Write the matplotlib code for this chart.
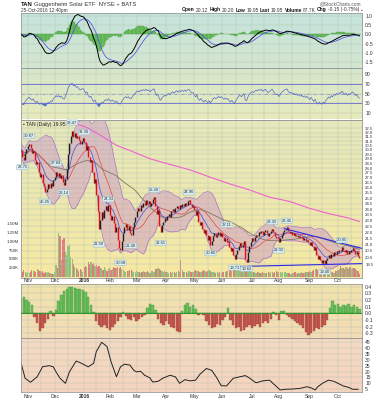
import numpy as np
import pandas as pd
import matplotlib
matplotlib.use("Agg")
import matplotlib.pyplot as plt
from matplotlib.colors import LinearSegmentedColormap
from matplotlib.ticker import FixedLocator, NullLocator, FixedFormatter

plt.rcParams["font.family"] = ["Liberation Sans", "DejaVu Sans"]

W, H = 379, 400

# trading days, Oct 26 2015 .. Oct 25 2016
holidays = ["2015-11-26", "2015-12-25", "2016-01-01", "2016-01-18", "2016-02-15",
            "2016-03-25", "2016-05-30", "2016-07-04", "2016-09-05"]
dates = pd.bdate_range("2015-10-26", "2016-10-25")
dates = dates[~dates.isin(pd.to_datetime(holidays))]

closes = [
    30.0, 29.2, 28.9, 29.6, 30.1, 30.4, 30.7, 30.2, 29.6, 29.9,
    28.9, 28.4, 28.7, 27.6, 27.1, 27.4, 26.5, 26.2, 25.6, 25.9,
    26.4, 26.0, 26.5, 26.2, 26.8, 27.1, 27.6, 27.2, 27.5, 27.0,
    27.3, 26.6, 26.3, 26.9, 27.9, 29.5, 30.8, 31.6, 32.2, 31.5,
    31.9, 31.3, 31.6, 31.1, 30.7, 31.0, 31.3, 30.9, 30.0, 30.4,
    29.2, 28.6, 28.9, 27.6, 26.5, 26.9, 25.3, 23.8, 22.3, 23.0,
    23.7, 23.2, 23.9, 24.3, 23.8, 24.4, 23.5, 23.0, 23.4, 22.8,
    22.0, 22.4, 21.4, 20.7, 20.6, 21.3, 21.9, 22.4, 22.7, 22.2,
    22.5, 21.9, 21.8, 22.4, 22.9, 23.3, 23.8, 24.1, 23.8, 24.4,
    24.2, 24.6, 24.4, 24.8, 24.5, 24.7, 24.3, 24.6, 24.9, 25.1,
    24.3, 23.6, 23.9, 22.5, 22.0, 22.6, 22.9, 23.2, 23.0, 23.4,
    23.6, 23.3, 23.8, 24.0, 23.7, 24.1, 24.3, 24.0, 24.4, 24.2,
    24.5, 24.3, 24.6, 24.4, 24.7, 24.8, 24.5, 24.2, 24.3, 23.9,
    23.5, 23.8, 22.9, 22.6, 22.9, 22.3, 21.9, 22.2, 21.8, 21.4,
    21.7, 21.0, 21.3, 21.7, 21.9, 21.6, 21.8, 22.0, 21.7, 21.9,
    21.6, 21.3, 21.5, 21.2, 21.3, 20.8, 20.5, 20.7, 20.2, 19.9,
    20.3, 20.6, 20.9, 21.1, 20.8, 21.0, 21.3, 19.9, 19.7, 20.4,
    20.9, 21.2, 21.5, 21.3, 21.6, 21.8, 21.7, 22.0, 21.9, 22.1,
    21.8, 22.0, 22.2, 21.9, 21.7, 21.9, 22.1, 22.3, 22.0, 21.7,
    21.5, 21.6, 21.2, 21.5, 21.8, 22.0, 22.2, 22.3, 22.4, 22.1,
    21.9, 22.0, 21.8, 21.9, 21.7, 21.8, 21.6, 21.7, 21.5, 21.6,
    21.4, 21.5, 21.3, 21.4, 21.2, 21.0, 21.2, 20.9, 20.6, 20.8,
    20.2, 19.9, 20.1, 19.8, 19.6, 19.8, 19.5, 19.8, 20.0, 20.2,
    20.0, 20.3, 20.1, 20.4, 20.3, 20.5, 20.4, 20.6, 20.5, 20.8,
    20.6, 20.4, 20.6, 20.3, 20.5, 20.4, 20.6, 20.7, 20.5, 20.3,
    20.4, 20.10, 19.95,
]

volumes_k = [
    180, 150, 210, 140, 120, 160, 130, 150, 200, 170,
    190, 160, 240, 210, 180, 150, 170, 130, 160, 120,
    140, 110, 130, 100, 90, 150, 340, 260, 1240, 1150,
    480, 1050, 1100, 700, 620, 880, 900, 560, 520, 380,
    300, 260, 220, 180, 240, 200, 150, 280, 320, 300,
    430, 380, 420, 360, 400, 330, 350, 300, 320, 260,
    250, 200, 280, 220, 190, 240, 260, 210, 230, 280,
    250, 270, 300, 260, 290, 240, 200, 180, 160, 190,
    170, 200, 210, 180, 160, 150, 170, 140, 160, 130,
    150, 170, 140, 160, 180, 150, 130, 170, 190, 160,
    220, 240, 260, 230, 200, 180, 150, 170, 140, 160,
    130, 150, 120, 140, 160, 130, 150, 170, 140, 480,
    200, 160, 140, 150, 130, 170, 160, 140, 150, 180,
    200, 170, 190, 160, 150, 180, 200, 170, 160, 190,
    210, 180, 160, 150, 140, 130, 150, 120, 140, 130,
    150, 160, 140, 170, 180, 200, 220, 190, 240, 260,
    230, 200, 180, 170, 160, 150, 190, 280, 300, 250,
    200, 180, 160, 150, 140, 130, 150, 140, 120, 130,
    140, 120, 110, 130, 150, 120, 140, 160, 130, 150,
    170, 140, 160, 150, 130, 140, 160, 150, 120, 110,
    130, 100, 120, 110, 140, 100, 120, 130, 110, 140,
    120, 130, 150, 140, 160, 170, 150, 190, 210, 230,
    240, 200, 180, 210, 230, 190, 220, 170, 160, 150,
    140, 160, 150, 130, 170, 180, 200, 240, 330, 270,
    250, 220, 300, 260, 240, 280, 230, 250, 270, 220,
    200, 180, 90,
]

# Chaikin money flow, read every second session
cmf_idx = list(range(0, 253, 2))
cmf = [
    0.22, 0.24, 0.20, 0.17, 0.12, -0.05, -0.15, -0.26, -0.22, -0.15,
    -0.08, 0.03, -0.04, 0.05, 0.18, 0.28, 0.33, 0.36, 0.40, 0.39,
    0.38, 0.37, 0.36, 0.35, 0.32, 0.25, 0.12, 0.02, -0.12, -0.18,
    -0.20, -0.17, -0.22, -0.25, -0.20, -0.16, -0.12, -0.05, 0.02, -0.04,
    -0.08, -0.10, -0.06, -0.12, -0.08, -0.05, -0.03, 0.08, 0.14, 0.12,
    0.05, -0.08, -0.15, -0.18, -0.12, -0.16, -0.20, -0.22, -0.26, -0.28,
    0.04, 0.12, 0.15, 0.10, 0.13, 0.06, -0.02, 0.01, -0.03, -0.12,
    -0.18, -0.22, -0.20, -0.16, -0.18, -0.10, -0.05, 0.08, -0.10, -0.18,
    -0.22, -0.20, -0.26, -0.25, -0.20, -0.18, -0.22, -0.19, -0.16, -0.20,
    -0.15, -0.12, -0.14, -0.08, 0.02, -0.02, -0.10, 0.03, 0.04, -0.02,
    -0.05, -0.08, -0.12, -0.15, -0.18, -0.22, -0.28, -0.33, -0.30, -0.26,
    -0.22, -0.24, -0.20, -0.18, -0.10, 0.08, 0.18, 0.12, 0.14, 0.09,
    0.13, 0.11, 0.14, 0.10, 0.12, 0.09, 0.07,
]

# ADX line
adx_idx = [0, 3, 7, 12, 16, 21, 24, 26, 29, 33, 36, 41, 45, 50, 54, 56, 60, 64, 67, 71,
           74, 77, 81, 84, 86, 89, 92, 96, 98, 102, 106, 111, 115, 118, 122, 126, 130, 133,
           138, 142, 146, 149, 153, 158, 163, 167, 170, 175, 180, 185, 189, 193, 197, 202,
           208, 213, 216, 219, 221, 225, 229, 233, 236, 240, 244, 247, 251]
adx = [27.0, 14.2, 10.8, 15.5, 24.1, 25.0, 24.0, 19.7, 14.2, 9.9, 19.7, 29.0, 27.0, 24.0,
       27.0, 37.0, 45.0, 41.4, 28.4, 15.5, 24.0, 26.3, 25.5, 21.0, 19.7, 20.2, 16.8, 14.5,
       11.0, 11.6, 14.5, 16.8, 15.4, 9.9, 13.0, 12.0, 12.6, 17.4, 22.6, 21.0, 14.2, 7.9,
       7.6, 14.2, 15.5, 16.5, 14.5, 10.3, 12.0, 12.6, 8.4, 4.2, 4.8, 5.0, 5.6, 7.0, 6.0,
       4.2, 7.0, 10.3, 12.6, 11.6, 9.9, 7.6, 6.4, 4.8, 4.8]

# 200-day moving average
ma200_idx = [30, 36, 48, 59, 71, 83, 96, 108, 126, 140, 155, 170, 185, 200, 214, 229, 244, 252]
ma200 = [33.9, 33.3, 32.7, 31.7, 30.5, 29.8, 29.0, 28.5, 27.8, 27.1, 26.4, 25.8, 25.1,
         24.7, 24.1, 23.6, 23.2, 22.9]

# labelled highs / lows
hi_idx = [6, 26, 38, 47, 65, 99, 125, 153, 187, 198, 239]
hi_val = [30.87, 27.84, 32.47, 31.30, 24.33, 25.20, 24.96, 22.11, 22.35, 22.45, 20.85]
lo_idx = [1, 18, 32, 58, 74, 82, 104, 141, 159, 168, 192, 226]
lo_val = [28.75, 25.25, 26.14, 21.50, 20.08, 21.40, 21.61, 20.80, 19.71, 19.62, 21.02, 19.40]

trend1_idx, trend1_val = [196, 254], [22.3, 20.7]
trend2_idx, trend2_val = [158, 254], [19.33, 19.55]

price_ticks = [19.5 + 0.5 * k for k in range(27)]
macd_ticks = [1.0, 0.5, 0.0, -0.5, -1.0, -1.5]
rsi_ticks = [10, 30, 50, 70, 90]
cmf_ticks = [0.4, 0.3, 0.2, 0.1, 0.0, -0.1, -0.2, -0.3]
adx_ticks = [45, 40, 35, 30, 25, 20, 15, 10, 5]
vol_ticks = [250, 500, 750, 1000, 1250, 1500]
vol_labels = ["250K", "500K", "750K", "1.00M", "1.25M", "1.50M"]

# ---- indicators from the closes
c = pd.Series(closes)
x = np.arange(len(c))
sma20 = c.rolling(20, min_periods=1).mean()
sd20 = c.rolling(20, min_periods=2).std(ddof=0).bfill()
bb_up = sma20 + 2 * sd20
bb_dn = sma20 - 2 * sd20
ema10 = c.ewm(span=10, adjust=False).mean()
sma50 = c.rolling(50, min_periods=1).mean()
macd = c.ewm(span=12, adjust=False).mean() - c.ewm(span=26, adjust=False).mean()
sig = macd.ewm(span=9, adjust=False).mean()
hist = macd - sig

# Wilder RSI(14), seeded with the average of the first 14 moves
d = c.diff().fillna(0).values
g0 = np.clip(d[1:15], 0, None).mean()
l0 = np.clip(-d[1:15], 0, None).mean()
rsi_vals = []
ag, al = g0, l0
for k in range(len(d)):
    if k > 0:
        ag = (ag * 13 + max(d[k], 0)) / 14
        al = (al * 13 + max(-d[k], 0)) / 14
    rsi_vals.append(100 - 100 / (1 + ag / al))
rsi = pd.Series(rsi_vals)
opens = c.shift(1).fillna(c.iloc[0])

# ---- layout
fig = plt.figure(figsize=(W / 100, H / 100), dpi=100)
fig.patch.set_facecolor("white")
XL, XR = 20.7, 361.7
xlim = (-0.3, 253.7)


def rect(top, bottom):
    return [XL / W, 1 - bottom / H, (XR - XL) / W, (bottom - top) / H]


def panel(top, bottom, c_top, c_bot):
    bgax = fig.add_axes(rect(top, bottom), zorder=-5)
    cmap = LinearSegmentedColormap.from_list("g", [c_bot, c_top])
    bgax.imshow(np.linspace(0, 1, 64).reshape(-1, 1), aspect="auto", cmap=cmap,
                origin="lower", extent=[0, 1, 0, 1])
    bgax.axis("off")
    ax = fig.add_axes(rect(top, bottom))
    ax.set_facecolor("none")
    ax.set_xlim(*xlim)
    for s in ax.spines.values():
        s.set_color("#9a9a9a")
        s.set_linewidth(0.6)
    ax.yaxis.tick_right()
    ax.tick_params(axis="y", length=0, labelsize=3.6, pad=2.5, colors="#333333")
    ax.tick_params(axis="x", length=0, labelbottom=False)
    return ax


month_pos, month_lab, grid_pos = [], [], []
for k in range(1, len(dates)):
    if dates[k].month != dates[k - 1].month:
        month_pos.append(k)
        month_lab.append("2016" if dates[k].month == 1 else dates[k].strftime("%b"))
        grid_pos.append(k)
    if dates[k].day >= 15 and dates[k - 1].day < 15:
        grid_pos.append(k)


def vgrid(ax):
    ax.xaxis.set_major_locator(FixedLocator(grid_pos))
    ax.grid(True, color="#b9c4b4", lw=0.35)
    ax.set_axisbelow(True)


def months(ax, yoff):
    for p, lab in zip(month_pos, month_lab):
        ax.text(p, yoff, lab, transform=ax.get_xaxis_transform(), ha="center", va="center",
                fontsize=3.6, color="#333333", weight="bold" if lab == "2016" else "normal")


# panel 1: MACD
ax1 = panel(13, 68, "#c4e4dc", "#d4e7cf")
vgrid(ax1)
ax1.bar(x, hist, width=1.0, color="#74c464", edgecolor="#3f9a3f", lw=0.2, zorder=2)
ax1.plot(x, sig, color="#5a5ae6", lw=0.6, zorder=3)
ax1.plot(x, macd, color="black", lw=0.7, zorder=4)
ax1.set_ylim(-1.81, 1.145)
ax1.yaxis.set_major_locator(FixedLocator(macd_ticks))
ax1.yaxis.set_major_formatter(FixedFormatter([f"{t:.1f}" for t in macd_ticks]))

# panel 2: RSI
ax2 = panel(68, 119.5, "#d5e7cc", "#e7ebbc")
vgrid(ax2)
ax2.axhline(70, color="#6a6ad6", lw=0.6)
ax2.axhline(30, color="#6a6ad6", lw=0.6)
ax2.axhline(50, color="#8a8ad0", lw=0.5, ls=(0, (5, 2, 1, 2)))
ax2.fill_between(x, rsi, 30, where=rsi < 30, color="#3c78e0", lw=0)
ax2.plot(x, rsi, color="#5868c8", lw=0.5)
ax2.set_ylim(-3.4, 103)
ax2.yaxis.set_major_locator(FixedLocator(rsi_ticks))
ax2.yaxis.set_major_formatter(FixedFormatter([str(t) for t in rsi_ticks]))

# panel 3: price + volume
ax3 = panel(120, 278, "#e5e9bc", "#f7e8a2")
axv = ax3.twinx()
axv.set_zorder(ax3.get_zorder() - 1)
axv.set_ylim(-20, 4420)
axv.set_xlim(*xlim)
axv.axis("off")
vcol = np.where(c.values >= opens.values, "#8fc27a", "#e07c7c")
axv.bar(x, volumes_k, width=0.9, color=vcol, lw=0)
for v, lab in zip(vol_ticks, vol_labels):
    axv.text(-0.006, v, lab, transform=axv.get_yaxis_transform(), ha="right", va="center",
             fontsize=3.2, color="#333333")

vgrid(ax3)
ax3.set_yscale("log")
ax3.set_ylim(18.52, 33.55)
ax3.yaxis.tick_right()
ax3.yaxis.set_major_locator(FixedLocator(price_ticks))
ax3.yaxis.set_major_formatter(FixedFormatter([f"{t:.1f}" for t in price_ticks]))
ax3.yaxis.set_minor_locator(NullLocator())
ax3.tick_params(axis="y", which="both", length=0, labelsize=3.1, pad=2.5, colors="#333333",
                left=False, labelleft=False, right=True, labelright=True)
ax3.set_xlim(*xlim)

ax3.fill_between(x, bb_dn, bb_up, color="#c890c8", alpha=0.45, lw=0, zorder=2)
ax3.plot(x, bb_up, color="#a878c8", lw=0.5, zorder=2)
ax3.plot(x, bb_dn, color="#a878c8", lw=0.5, zorder=2)
ax3.plot(ma200_idx, ma200, color="#f060d0", lw=0.8, zorder=3)
ax3.plot(x, sma50, color="#7a7a62", lw=0.6, zorder=3)
ax3.plot(x, sma20, color="#e04848", lw=0.5, zorder=3)
ax3.plot(x, ema10, color="#4848d8", lw=0.5, zorder=3)
ccol = np.where(c.values >= opens.values, "#202020", "#e01010")
lo = np.minimum(c.values, opens.values)
hi = np.maximum(c.values, opens.values)
ax3.vlines(x, lo, hi, colors=ccol, lw=1.0, zorder=4)
ax3.plot(trend1_idx, trend1_val, color="#2a2ae8", lw=0.8, zorder=5)
ax3.plot(trend2_idx, trend2_val, color="#2a2ae8", lw=0.8, zorder=5)

box = dict(boxstyle="round,pad=0.15", fc="#d6ecf2", ec="#8fb3c2", lw=0.3)
for j, v in zip(hi_idx, hi_val):
    ax3.annotate(f"{v:.2f}", xy=(j, v), xytext=(0, 3), textcoords="offset points",
                 ha="center", va="bottom", fontsize=3.0, bbox=box, zorder=6, color="#333333")
for j, v in zip(lo_idx, lo_val):
    ax3.annotate(f"{v:.2f}", xy=(j, v), xytext=(0, -3), textcoords="offset points",
                 ha="center", va="top", fontsize=3.0, bbox=box, zorder=6, color="#333333")
ax3.text(0.006, 0.988, "\u25aa TAN (Daily) 19.95", transform=ax3.transAxes, fontsize=3.6,
         va="top", color="#222222", zorder=7)
months(ax3, -0.017)

# panel 4: CMF
ax4 = panel(284, 338, "#f1e3ac", "#f4dcb6")
vgrid(ax4)
cm = np.array(cmf)
ax4.bar(cmf_idx, cm, width=1.8, color=np.where(cm >= 0, "#6cc05c", "#c45a52"),
        edgecolor=np.where(cm >= 0, "#3c8c3c", "#9a3a34"), lw=0.25, zorder=2)
ax4.axhline(0, color="#2e9a2e", lw=0.8, zorder=3)
ax4.set_ylim(-0.371, 0.44)
ax4.yaxis.set_major_locator(FixedLocator(cmf_ticks))
ax4.yaxis.set_major_formatter(FixedFormatter([f"{t:.1f}" for t in cmf_ticks]))

# panel 5: ADX
ax5 = panel(338, 392.3, "#f4dbc4", "#f6d4bf")
vgrid(ax5)
ax5.plot(adx_idx, adx, color="#222222", lw=0.7)
ax5.set_ylim(2.2, 48.7)
ax5.yaxis.set_major_locator(FixedLocator(adx_ticks))
ax5.yaxis.set_major_formatter(FixedFormatter([str(t) for t in adx_ticks]))
months(ax5, -0.08)

# ---- header
fig.canvas.draw()
r = fig.canvas.get_renderer()


def row(parts, x0, y, size):
    xp = x0
    for txt, bold, col in parts:
        t = fig.text(xp / W, 1 - y / H, txt, fontsize=size, va="center", color=col,
                     weight="bold" if bold else "normal")
        xp += t.get_window_extent(renderer=r).width + 1.2
    return xp


row([("TAN", True, "#111111"), ("Guggenheim Solar ETF  NYSE + BATS", False, "#333333")], 21, 4.5, 4.2)
fig.text(21 / W, 1 - 10.5 / H, "25-Oct-2016 12:40pm", fontsize=3.4, va="center", color="#333333")
fig.text(361 / W, 1 - 3.5 / H, "@StockCharts.com", fontsize=3.4, va="center", ha="right",
         color="#555555")
quote = [("Open", True, "#111111"), ("20.12", False, "#333333"),
         ("High", True, "#111111"), ("20.20", False, "#333333"),
         ("Low", True, "#111111"), ("19.95", False, "#333333"),
         ("Last", True, "#111111"), ("19.95", False, "#333333"),
         ("Volume", True, "#111111"), ("87.7K", False, "#333333"),
         ("Chg", True, "#111111"), ("-0.15 (-0.75%)", False, "#333333"),
         ("\u25aa", False, "#e02020")]
row(quote, 182, 10, 3.5)

fig.savefig("out.png", dpi=100)
